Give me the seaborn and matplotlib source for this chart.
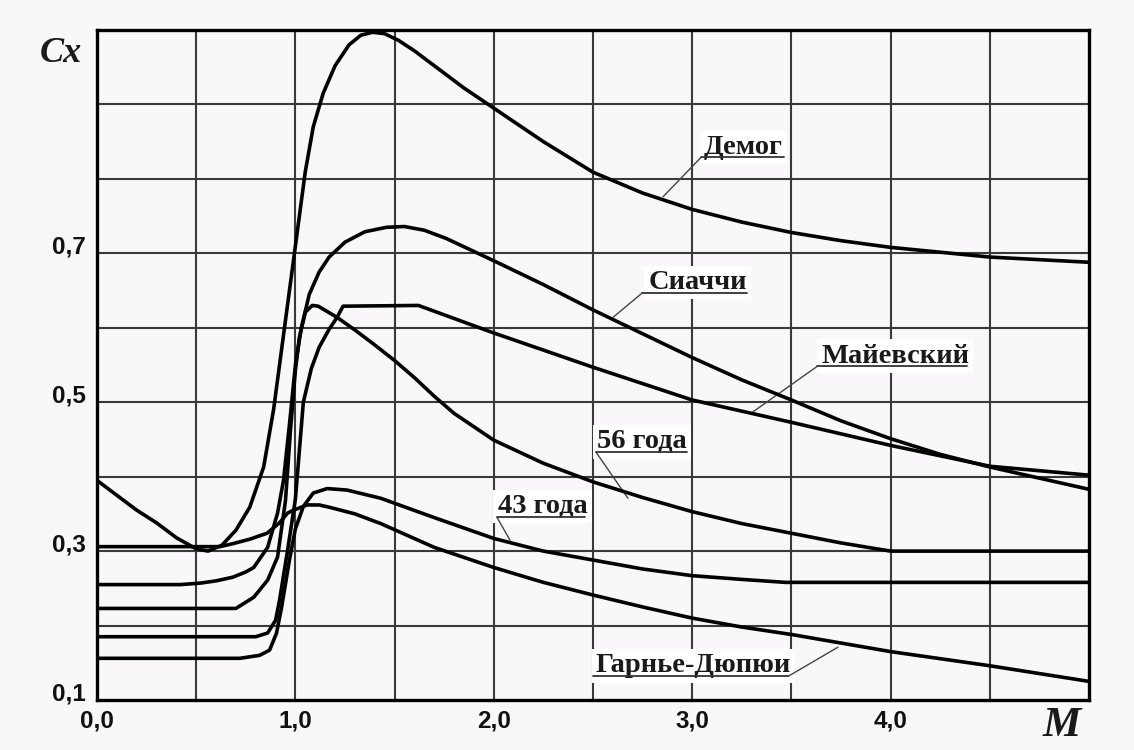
import matplotlib
matplotlib.use("Agg")
import numpy as np
import pandas as pd
import seaborn as sns
import matplotlib.pyplot as plt
from matplotlib.transforms import ScaledTranslation

# ---------------- data ----------------
demog_m = [0.0, 0.1, 0.2, 0.3, 0.4, 0.5, 0.56, 0.63, 0.7, 0.77, 0.84, 0.89, 0.94, 0.99,
           1.02, 1.05, 1.09, 1.14, 1.2, 1.27, 1.33, 1.39, 1.45, 1.52, 1.6, 1.7, 1.85,
           2.0, 2.25, 2.5, 2.75, 3.0, 3.25, 3.5, 3.75, 4.0, 4.5, 5.0]
demog_cx = [0.395, 0.375, 0.355, 0.338, 0.318, 0.303, 0.300, 0.308, 0.328, 0.359, 0.413,
            0.49, 0.59, 0.69, 0.75, 0.81, 0.87, 0.915, 0.952, 0.980, 0.993, 0.997, 0.995,
            0.986, 0.972, 0.952, 0.922, 0.895, 0.85, 0.809, 0.781, 0.759, 0.742, 0.728,
            0.717, 0.708, 0.695, 0.688]

siacci_m = [0.0, 0.42, 0.52, 0.6, 0.685, 0.75, 0.79, 0.86, 0.91, 0.94, 0.97, 1.0, 1.03,
            1.07, 1.12, 1.17, 1.25, 1.35, 1.46, 1.55, 1.65, 1.76, 1.88, 2.0, 2.25, 2.5,
            2.75, 3.0, 3.25, 3.5, 3.75, 4.0, 4.25, 4.5, 4.75, 5.0]
siacci_cx = [0.255, 0.255, 0.257, 0.26, 0.265, 0.272, 0.278, 0.305, 0.351, 0.395, 0.47,
             0.55, 0.60, 0.645, 0.675, 0.695, 0.715, 0.729, 0.735, 0.736, 0.731, 0.72,
             0.705, 0.69, 0.658, 0.624, 0.592, 0.56, 0.53, 0.503, 0.475, 0.451, 0.43,
             0.413, 0.398, 0.383]

mayevsky_m = [0.0, 0.8, 0.86, 0.9, 0.92, 0.96, 1.0, 1.02, 1.04, 1.08, 1.12, 1.17, 1.21,
              1.24, 1.62, 2.0, 2.5, 3.0, 3.5, 4.0, 4.5, 5.0]
mayevsky_cx = [0.185, 0.185, 0.19, 0.207, 0.234, 0.30, 0.37, 0.435, 0.50, 0.545, 0.574,
               0.598, 0.614, 0.629, 0.630, 0.593, 0.547, 0.503, 0.473, 0.442, 0.414, 0.402]

g56_m = [0.0, 0.70, 0.79, 0.86, 0.91, 0.95, 0.975, 1.0, 1.02, 1.05, 1.085, 1.115, 1.21,
         1.3, 1.39, 1.5, 1.6, 1.7, 1.8, 2.0, 2.25, 2.5, 2.75, 3.0, 3.25, 3.5, 3.75, 4.0, 5.0]
g56_cx = [0.223, 0.223, 0.238, 0.261, 0.292, 0.368, 0.462, 0.543, 0.587, 0.621, 0.630,
          0.629, 0.614, 0.597, 0.579, 0.556, 0.533, 0.508, 0.485, 0.449, 0.418, 0.393,
          0.372, 0.353, 0.337, 0.324, 0.311, 0.30, 0.30]

g43_m = [0.0, 0.72, 0.82, 0.87, 0.905, 0.93, 0.97, 1.0, 1.04, 1.09, 1.16, 1.26, 1.43,
         1.7, 2.0, 2.25, 2.5, 2.75, 3.0, 3.25, 3.47, 5.0]
g43_cx = [0.156, 0.156, 0.16, 0.167, 0.19, 0.224, 0.288, 0.33, 0.36, 0.378, 0.384, 0.382,
          0.371, 0.345, 0.317, 0.30, 0.288, 0.276, 0.267, 0.262, 0.258, 0.258]

garnier_m = [0.0, 0.62, 0.685, 0.77, 0.857, 0.92, 0.96, 0.99, 1.06, 1.12, 1.17, 1.3, 1.43,
             1.7, 2.0, 2.25, 2.5, 2.75, 3.0, 3.25, 3.5, 4.0, 4.5, 5.0]
garnier_cx = [0.306, 0.306, 0.31, 0.316, 0.324, 0.338, 0.351, 0.355, 0.362, 0.362, 0.359,
              0.35, 0.337, 0.305, 0.278, 0.258, 0.241, 0.225, 0.21, 0.198, 0.188, 0.165,
              0.146, 0.125]

curve_names = ["Демог", "Сиаччи", "Майевский", "56 года", "43 года", "Гарнье-Дюпюи"]

x_tick_vals = [0, 1, 2, 3, 4]
x_tick_labels = ["0,0", "1,0", "2,0", "3,0", "4,0"]
y_tick_vals = [0.1, 0.3, 0.5, 0.7]
y_tick_labels = ["0,1", "0,3", "0,5", "0,7"]
x_grid = [0.5, 1.0, 1.5, 2.0, 2.5, 3.0, 3.5, 4.0, 4.5]
y_grid = [0.2, 0.3, 0.4, 0.5, 0.6, 0.7, 0.8, 0.9]

# label placement: (text x, text baseline y, underline x0, x1, underline y, leader end x, y, leader start side)
label_specs = {
    "Демог":        (3.060, 0.834, 3.045, 3.465, 0.829, 2.853, 0.776, "left"),
    "Сиаччи":       (2.780, 0.652, 2.747, 3.276, 0.6465, 2.601, 0.614, "left"),
    "Майевский":    (3.650, 0.553, 3.629, 4.385, 0.548, 3.306, 0.487, "left"),
    "56 года":      (2.520, 0.438, 2.515, 2.974, 0.433, 2.676, 0.371, "left"),
    "43 года":      (2.020, 0.351, 2.016, 2.460, 0.3454, 2.082, 0.3145, "left"),
    "Гарнье-Дюпюи": (2.515, 0.137, 2.500, 3.483, 0.1317, 3.735, 0.171, "right"),
}

# ---------------- figure ----------------
sns.set_theme(style="white")
plt.rcParams["font.family"] = ["Liberation Serif", "DejaVu Serif"]

bg = "#faf7fb"
fig = plt.figure(figsize=(11.34, 7.5), dpi=100, facecolor=bg)
ax = fig.add_axes([97 / 1134, 1 - 700 / 750, (1089 - 97) / 1134, (700 - 30) / 750])
ax.set_facecolor(bg)

series = [(demog_m, demog_cx), (siacci_m, siacci_cx), (mayevsky_m, mayevsky_cx),
          (g56_m, g56_cx), (g43_m, g43_cx), (garnier_m, garnier_cx)]
frames = []
for name, (m, cx) in zip(curve_names, series):
    frames.append(pd.DataFrame({"M": m, "Cx": cx, "curve": name}))
df = pd.concat(frames, ignore_index=True)

sns.lineplot(data=df, x="M", y="Cx", units="curve", estimator=None, sort=False,
             color="black", lw=2.6, ax=ax, zorder=5, legend=False)
for ln in ax.get_lines():
    ln.set_solid_joinstyle("round")
    ln.set_solid_capstyle("round")

ax.set_xlim(0, 5)
ax.set_ylim(0.1, 1.0)

# grid
for gx in x_grid:
    ax.axvline(gx, color="#3a3a3a", lw=1.5, zorder=1)
for gy in y_grid:
    ax.axhline(gy, color="#3a3a3a", lw=1.5, zorder=1)

for s in ax.spines.values():
    s.set_color("black")
    s.set_linewidth(2.4)
    s.set_zorder(6)

ax.set_xlabel("")
ax.set_ylabel("")
ax.set_xticks(x_tick_vals)
ax.set_xticklabels(x_tick_labels)
ax.set_yticks(y_tick_vals)
ax.set_yticklabels(y_tick_labels)
ax.tick_params(axis="both", length=0, labelsize=17.5, colors="#111111")
ax.tick_params(axis="x", pad=7)
ax.tick_params(axis="y", pad=8)
for lab in ax.get_xticklabels() + ax.get_yticklabels():
    lab.set_fontfamily(["Liberation Sans", "DejaVu Sans"])
    lab.set_fontweight("bold")
for lab in ax.get_yticklabels():
    lab.set_transform(lab.get_transform() + ScaledTranslation(0, 9 / 100, fig.dpi_scale_trans))

# curve labels
for name, (tx, ty, u0, u1, uy, lx, ly, side) in label_specs.items():
    ax.text(tx, ty, name, fontsize=20.5, fontweight="bold", color="#1a1a1a",
            ha="left", va="baseline", zorder=3,
            bbox=dict(boxstyle="square,pad=0.15", fc="white", ec="none"))
    ax.plot([u0, u1], [uy, uy], color="#333333", lw=1.3, zorder=4)
    sx = u0 if side == "left" else u1
    ax.plot([sx, lx], [uy, ly], color="#444444", lw=1.0, zorder=4)

# axis titles
fig.text(61 / 1134, 1 - 54 / 750, "Cx", fontsize=26, fontstyle="italic",
         fontweight="bold", ha="center", va="center", color="#1a1a1a")
fig.text(1062 / 1134, 1 - 726 / 750, "M", fontsize=31, fontstyle="italic",
         fontweight="bold", ha="center", va="center", color="#1a1a1a")

fig.savefig("out.png", dpi=100, facecolor=bg)
